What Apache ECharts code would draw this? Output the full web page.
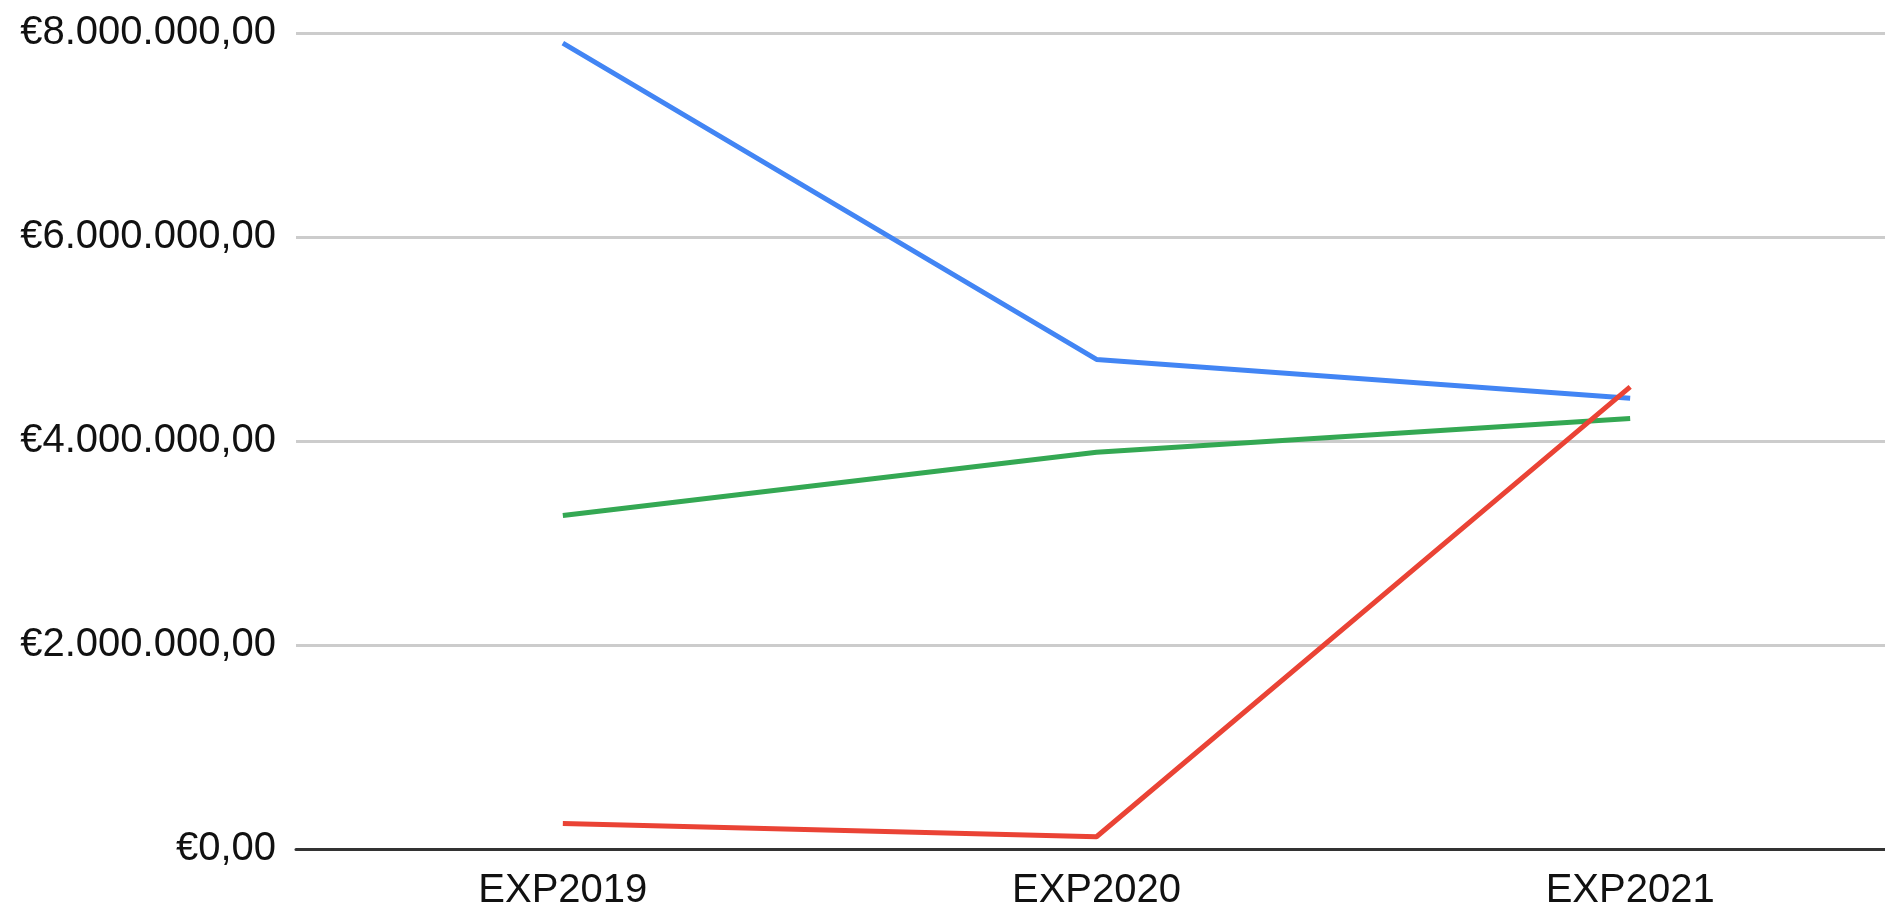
<!DOCTYPE html>
<html>
<head>
<meta charset="utf-8">
<script src="https://cdn.jsdelivr.net/npm/echarts@6/dist/echarts.min.js"></script>
<style>
  html, body { margin: 0; padding: 0; background: #fff; }
  #chart { width: 1885px; height: 908px; }
</style>
</head>
<body>
<div id="chart"></div>
<script>
const categories = ["EXP2019", "EXP2020", "EXP2021"];
const blueValues = [7900000, 4800000, 4420000];
const greenValues = [3270000, 3890000, 4220000];
const redValues = [250000, 120000, 4530000];
const yTicks = [0, 2000000, 4000000, 6000000, 8000000];

// €8.000.000,00 style
function euro(v) {
  let s = Math.round(v).toString().replace(/\B(?=(\d{3})+(?!\d))/g, ".");
  return "€" + s + ",00";
}

const chart = echarts.init(document.getElementById("chart"));

const lineSeries = (name, data, color) => ({
  name: name,
  type: "line",
  data: data,
  symbol: "none",
  smooth: false,
  lineStyle: { color: color, width: 5 },
  itemStyle: { color: color },
});

chart.setOption({
  animation: false,
  grid: {
    left: 296,
    right: -12,
    top: 33,
    bottom: 59,
    containLabel: false,
    outerBoundsMode: "none",
  },
  xAxis: {
    type: "category",
    data: categories,
    boundaryGap: true,
    axisTick: { show: false },
    axisLine: { show: true, lineStyle: { color: "#333", width: 3 } },
    axisLabel: {
      color: "#111",
      fontSize: 40,
      fontFamily: "Liberation Sans, Arial, sans-serif",
      margin: 22,
    },
  },
  yAxis: {
    type: "value",
    min: yTicks[0],
    max: yTicks[yTicks.length - 1],
    interval: yTicks[1] - yTicks[0],
    axisLine: { show: false },
    axisTick: { show: false },
    axisLabel: {
      color: "#111",
      fontSize: 40,
      fontFamily: "Liberation Sans, Arial, sans-serif",
      margin: 20,
      formatter: euro,
    },
    splitLine: { lineStyle: { color: "#cccccc", width: 3 } },
  },
  series: [
    lineSeries("Blu", blueValues, "#4285F4"),
    lineSeries("Verde", greenValues, "#34A853"),
    lineSeries("Rosso", redValues, "#EA4335"),
  ],
});
</script>
</body>
</html>
